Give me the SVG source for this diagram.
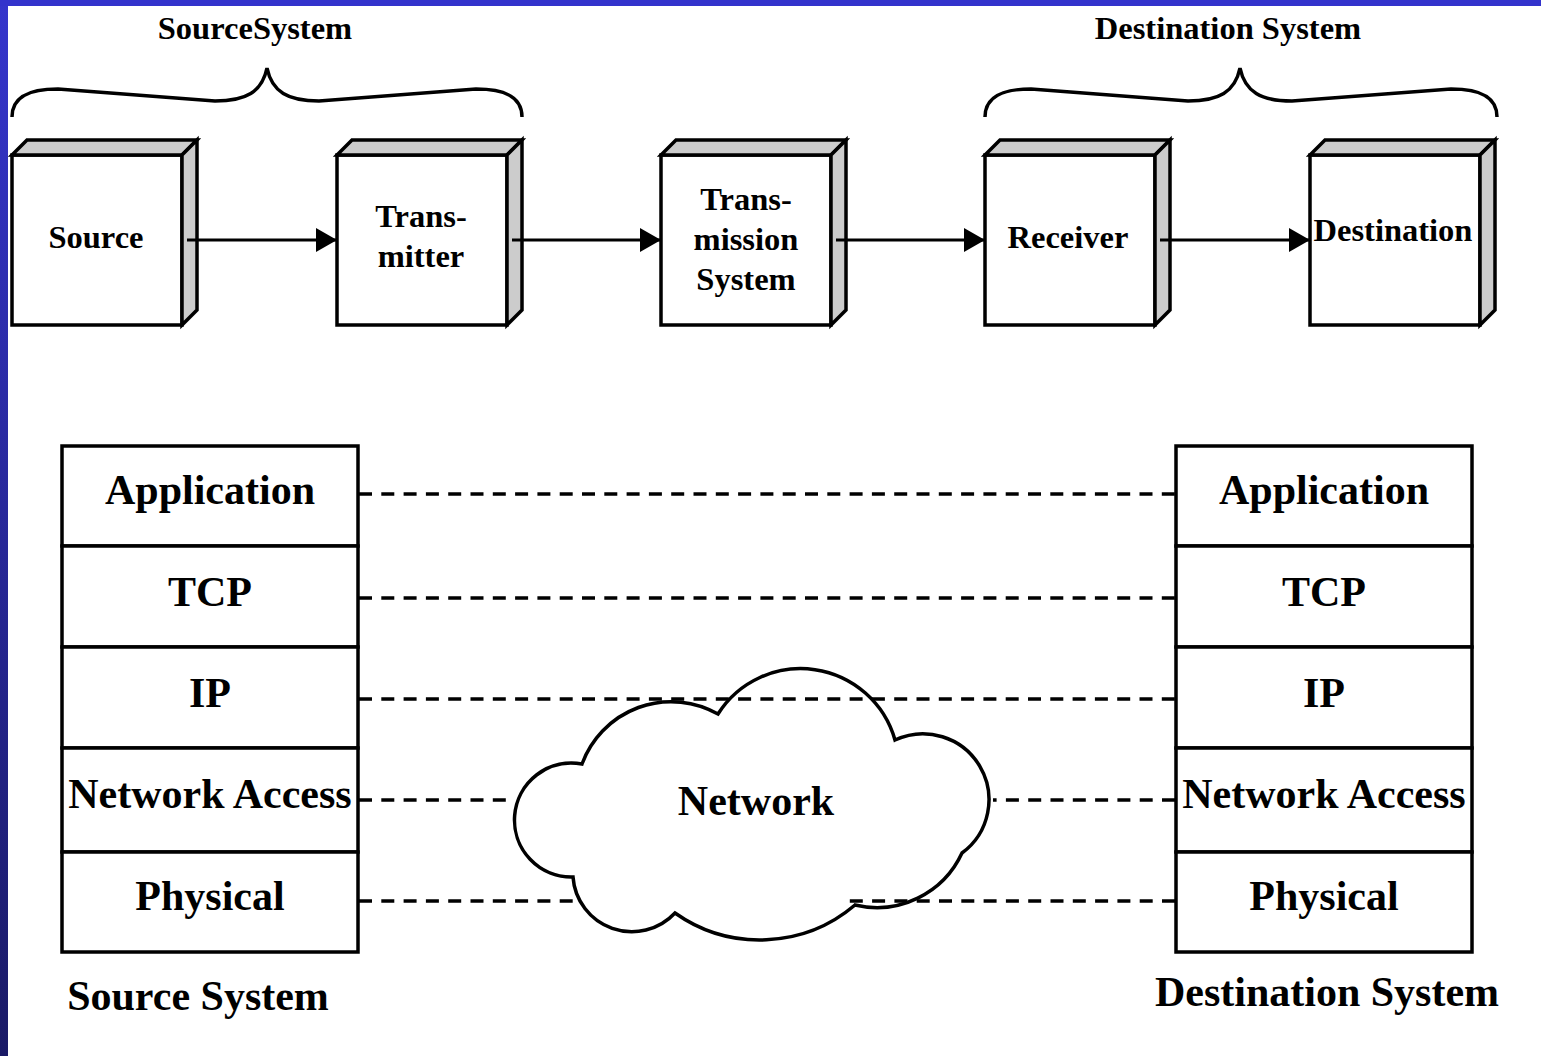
<svg xmlns="http://www.w3.org/2000/svg" width="1541" height="1056" viewBox="0 0 1541 1056">
<style>
.t{font-family:"Liberation Serif","Times New Roman",serif;font-weight:bold;fill:#000;text-anchor:middle}
.s{font-size:32.5px}
.b{font-size:42px}
.front{fill:#fff;stroke:#000;stroke-width:3.5;stroke-linejoin:miter}
.face{fill:#cccccc;stroke:#000;stroke-width:3.5;stroke-linejoin:miter}
.layer{fill:#fff;stroke:#000;stroke-width:3.5}
.brace{fill:none;stroke:#000;stroke-width:3.5}
.arrow{stroke:#000;stroke-width:3;fill:none;marker-end:url(#ah)}
.dash{stroke:#000;stroke-width:3.5;stroke-dasharray:13 9.3;fill:none}
</style>
<defs>
<linearGradient id="lg" x1="0" y1="0" x2="0" y2="1">
<stop offset="0" stop-color="#3535cc"/>
<stop offset="1" stop-color="#1a1a66"/>
</linearGradient>
<marker id="ah" markerUnits="userSpaceOnUse" markerWidth="22" markerHeight="26" refX="21" refY="12" orient="auto">
<path d="M0,0 L21,12 L0,24 Z" fill="#000"/>
</marker>
</defs>
<rect width="1541" height="1056" fill="#fff"/>
<rect x="0" y="0" width="8" height="1056" fill="url(#lg)"/>
<rect x="0" y="0" width="1541" height="6" fill="#3333cc"/>

<g id="brace-source">
<path class="brace" d="M12,117 C12,96 30,89 58,89 L215,101 C246,101 262,92 267,68 C272,92 288,101 319,101 L476,89 C504,89 522,96 522,117"/>
<text class="t s" x="255" y="39">SourceSystem</text>
</g>
<g id="brace-destination">
<path class="brace" d="M985,117 C985,96 1003,89 1031,89 L1188,101 C1219,101 1235,92 1240,68 C1245,92 1261,101 1292,101 L1451,89 C1479,89 1497,96 1497,117"/>
<text class="t s" x="1228" y="39">Destination System</text>
</g>

<g id="source">
<rect class="front" x="12" y="155" width="170" height="170"/>
<polygon class="face" points="12,155 27,140 197,140 182,155"/>
<polygon class="face" points="182,155 197,140 197,310 182,325"/>
<text class="t s" x="96" y="248">Source</text>
</g>
<g id="transmitter">
<rect class="front" x="337" y="155" width="170" height="170"/>
<polygon class="face" points="337,155 352,140 522,140 507,155"/>
<polygon class="face" points="507,155 522,140 522,310 507,325"/>
<text class="t s" x="421" y="227">Trans-</text>
<text class="t s" x="421" y="267">mitter</text>
</g>
<g id="transmission">
<rect class="front" x="661" y="155" width="170" height="170"/>
<polygon class="face" points="661,155 676,140 846,140 831,155"/>
<polygon class="face" points="831,155 846,140 846,310 831,325"/>
<text class="t s" x="746" y="210">Trans-</text>
<text class="t s" x="746" y="250">mission</text>
<text class="t s" x="746" y="290">System</text>
</g>
<g id="receiver">
<rect class="front" x="985" y="155" width="170" height="170"/>
<polygon class="face" points="985,155 1000,140 1170,140 1155,155"/>
<polygon class="face" points="1155,155 1170,140 1170,310 1155,325"/>
<text class="t s" x="1068" y="248">Receiver</text>
</g>
<g id="destination">
<rect class="front" x="1310" y="155" width="170" height="170"/>
<polygon class="face" points="1310,155 1325,140 1495,140 1480,155"/>
<polygon class="face" points="1480,155 1495,140 1495,310 1480,325"/>
<text class="t s" x="1393" y="241">Destination</text>
</g>

<g id="source-stack">
<rect class="layer" x="62" y="446" width="296" height="100"/>
<rect class="layer" x="62" y="546" width="296" height="101"/>
<rect class="layer" x="62" y="647" width="296" height="101"/>
<rect class="layer" x="62" y="748" width="296" height="104"/>
<rect class="layer" x="62" y="852" width="296" height="100"/>
<text class="t b" x="210" y="504">Application</text>
<text class="t b" x="210" y="606">TCP</text>
<text class="t b" x="210" y="707">IP</text>
<text class="t b" x="210" y="808">Network Access</text>
<text class="t b" x="210" y="910">Physical</text>
<text class="t b" x="198" y="1010">Source System</text>
</g>
<g id="destination-stack">
<rect class="layer" x="1176" y="446" width="296" height="100"/>
<rect class="layer" x="1176" y="546" width="296" height="101"/>
<rect class="layer" x="1176" y="647" width="296" height="101"/>
<rect class="layer" x="1176" y="748" width="296" height="104"/>
<rect class="layer" x="1176" y="852" width="296" height="100"/>
<text class="t b" x="1324" y="504">Application</text>
<text class="t b" x="1324" y="606">TCP</text>
<text class="t b" x="1324" y="707">IP</text>
<text class="t b" x="1324" y="808">Network Access</text>
<text class="t b" x="1324" y="910">Physical</text>
<text class="t b" x="1327" y="1006">Destination System</text>
</g>

<g id="network">
<path fill="#fff" stroke="#000" stroke-width="3.5" stroke-linejoin="miter" d="M718,714 A98,98 0 0 1 895,740 A66,66 0 0 1 962,853 A94,94 0 0 1 855,905 A147,147 0 0 1 675,913 A59,59 0 0 1 573,877 A57,57 0 1 1 582,764 A95,95 0 0 1 718,714 Z"/>
<text class="t b" x="756" y="815">Network</text>
</g>

<g id="connectors">
<line class="arrow" x1="187" y1="240" x2="337" y2="240"/>
<line class="arrow" x1="512" y1="240" x2="661" y2="240"/>
<line class="arrow" x1="836" y1="240" x2="985" y2="240"/>
<line class="arrow" x1="1160" y1="240" x2="1310" y2="240"/>
<line class="dash" x1="359" y1="494" x2="1175" y2="494"/>
<line class="dash" x1="359" y1="598" x2="1175" y2="598"/>
<line class="dash" x1="359" y1="699" x2="1175" y2="699"/>
<line class="dash" x1="359" y1="800" x2="514" y2="800"/>
<line class="dash" x1="1175" y1="800" x2="993" y2="800"/>
<line class="dash" x1="359" y1="901" x2="580" y2="901"/>
<line class="dash" x1="1175" y1="901" x2="848" y2="901"/>
</g>
</svg>
